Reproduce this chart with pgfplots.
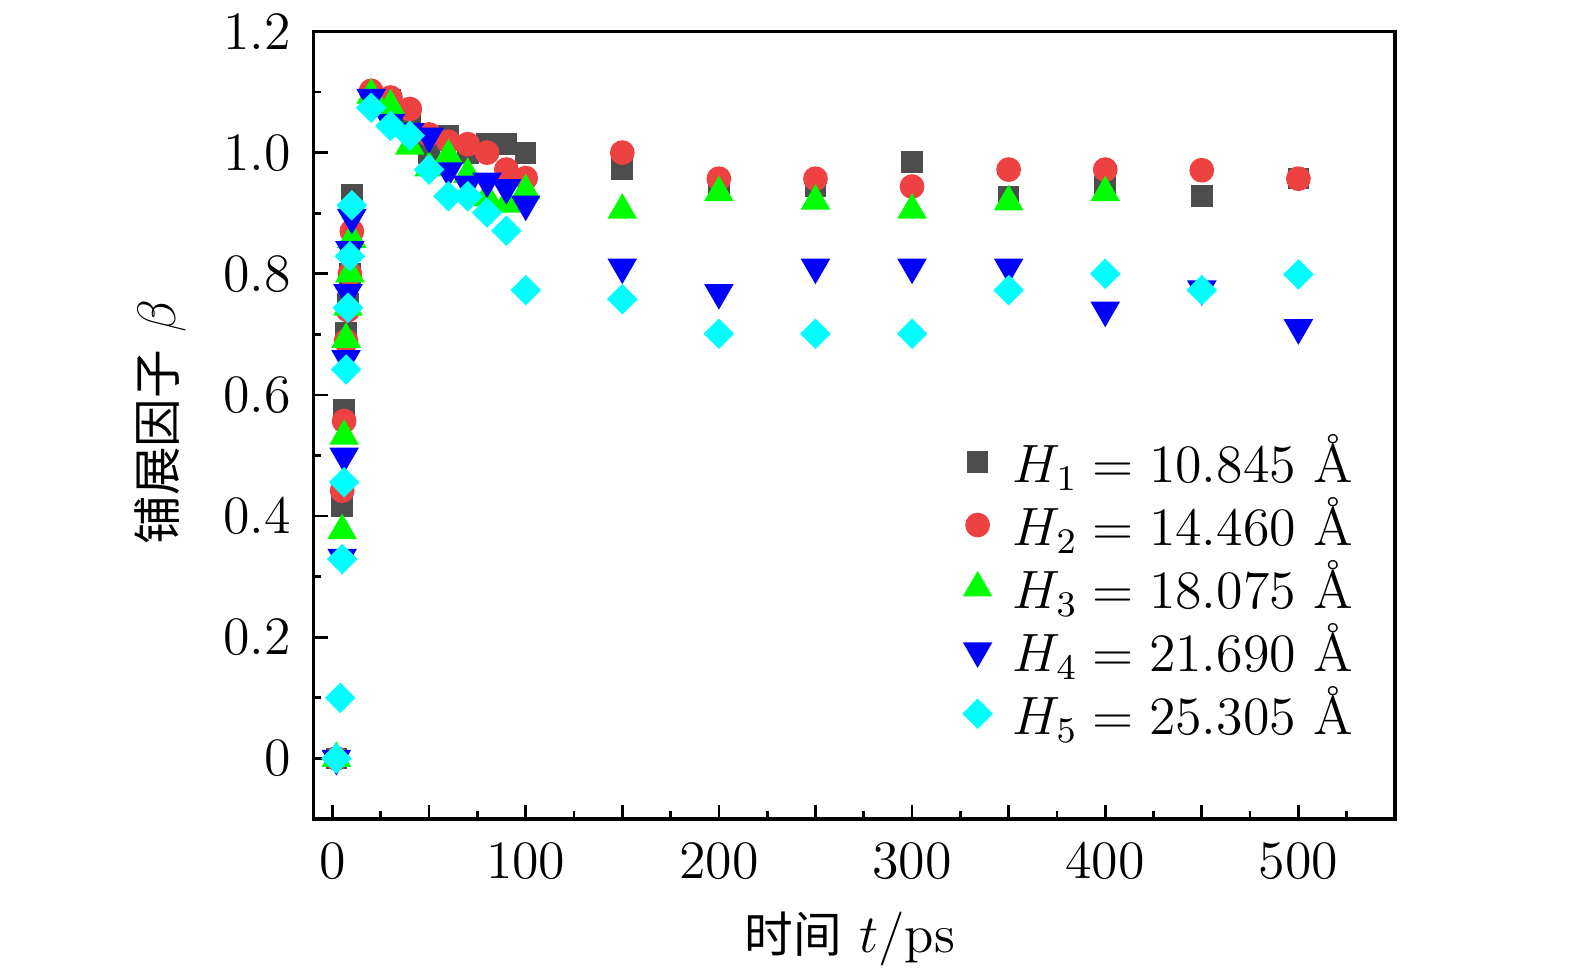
\documentclass[border=0pt]{standalone}
\usepackage{fontspec}
\usepackage{pgfplots}
\pgfplotsset{compat=1.18}
\newfontfamily\cjk{Noto Sans CJK SC}
\definecolor{cHa}{RGB}{77,77,77}
\definecolor{cHb}{RGB}{238,66,66}
\definecolor{cHc}{RGB}{0,255,0}
\definecolor{cHd}{RGB}{0,0,255}
\definecolor{cHe}{RGB}{0,255,255}
\begin{document}
\begin{tikzpicture}
\begin{axis}[
  scale only axis, width=240.4pt, height=175pt,
  xmin=-10, xmax=550, ymin=-0.1, ymax=1.2,
  axis line style={line width=0.7pt},
  tick align=inside, xtick pos=bottom, ytick pos=left,
  major tick length=3.2pt, minor tick length=1.7pt,
  every tick/.style={black, line width=0.6pt},
  xtick={0,50,...,500},
  xticklabels={0,,100,,200,,300,,400,,500},
  minor xtick={25,75,...,525},
  ytick={0,0.2,0.4,0.6,0.8,1.0,1.2},
  yticklabels={0,0.2,0.4,0.6,0.8,1.0,1.2},
  minor ytick={-0.1,0.1,0.3,0.5,0.7,0.9,1.1},
  tick label style={font=\large},
  yticklabel style={xshift=-1.4pt},
  xticklabel style={yshift=-1.6pt},
  label style={font=\large},
  xlabel={{\cjk\fontsize{10.8pt}{13pt}\selectfont 时间}\ $t/\mathrm{ps}$},
  ylabel={{\cjk\fontsize{10.8pt}{13pt}\selectfont 铺展因子}\ $\beta$},
  xlabel style={at={(axis description cs:0.496,0)}, anchor=base, yshift=-29.6pt},
  ylabel style={at={(axis description cs:-0.1414,0.504)}, anchor=center},
  legend style={draw=none, fill=none, font=\large, at={(0.983,0.512)}, anchor=north east, row sep=-2.2pt},
  legend cell align=left,
]
\addplot[only marks, mark=square*, mark size=2.2pt, color=cHa] table {
2 0
5 0.417
6 0.576
7 0.703
8 0.75
9 0.80
10 0.93
20 1.09
30 1.088
40 1.048
50 0.999
60 1.027
70 0.999
80 1.014
90 1.014
100 0.999
150 0.973
200 0.945
250 0.945
300 0.985
350 0.927
400 0.944
450 0.928
500 0.957
};
\addlegendentry{\hspace{2.7pt}$H_1=10.845$ Å}
\addplot[only marks, mark=*, mark size=2.55pt, color=cHb] table {
2 0
5 0.442
6 0.557
7 0.689
8 0.74
9 0.80
10 0.87
20 1.102
30 1.091
40 1.072
50 1.030
60 1.018
70 1.014
80 1.0
90 0.972
100 0.958
150 1.0
200 0.957
250 0.957
300 0.944
350 0.972
400 0.972
450 0.971
500 0.957
};
\addlegendentry{\hspace{2.7pt}$H_2=14.460$ Å}
\addplot[only marks, mark=triangle*, mark size=3.4pt, color=cHc] table {
2 0
5 0.376
6 0.532
7 0.692
8 0.745
9 0.80
10 0.857
20 1.095
30 1.077
40 1.011
50 0.975
60 0.995
70 0.964
80 0.926
90 0.915
100 0.937
150 0.905
200 0.934
250 0.92
300 0.905
350 0.919
400 0.934
};
\addlegendentry{\hspace{2.7pt}$H_3=18.075$ Å}
\addplot[only marks, mark=triangle*, mark size=3.4pt, mark options={rotate=180}, color=cHd] table {
2 0
5 0.332
6 0.499
7 0.66
8 0.769
9 0.84
10 0.893
20 1.091
30 1.05
40 1.035
50 1.027
60 0.970
70 0.948
80 0.953
90 0.942
100 0.915
150 0.811
200 0.769
250 0.811
300 0.811
350 0.811
400 0.74
450 0.775
500 0.711
};
\addlegendentry{\hspace{2.7pt}$H_4=21.690$ Å}
\addplot[only marks, mark=square*, mark size=2.2pt, mark options={rotate=45}, color=cHe] table {
2 0
4 0.1
5 0.329
6 0.456
7 0.642
8 0.744
9 0.829
10 0.913
20 1.074
30 1.044
40 1.028
50 0.972
60 0.928
70 0.928
80 0.901
90 0.871
100 0.773
150 0.758
200 0.701
250 0.701
300 0.701
350 0.773
400 0.80
450 0.773
500 0.799
};
\addlegendentry{\hspace{2.7pt}$H_5=25.305$ Å}
\end{axis}
\pgfresetboundingbox
\path[use as bounding box] (-69.6pt,-34.4pt) rectangle (280.4pt,182pt);
\end{tikzpicture}
\end{document}
